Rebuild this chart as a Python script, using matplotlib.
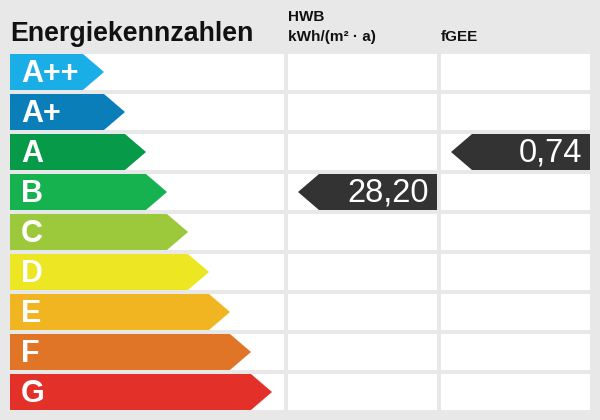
import matplotlib.pyplot as plt
from matplotlib.patches import Polygon, Rectangle

classes = ["A++", "A+", "A", "B", "C", "D", "E", "F", "G"]
class_colors = ["#1aaee6", "#0a7eb9", "#079a48", "#15b24f", "#9cc83c",
                "#ede622", "#f0b520", "#e07528", "#e3312a"]
columns = ["HWB\nkWh/(m² · a)", "fGEE"]
values = ["28,20", "0,74"]
value_class = ["B", "A"]

bg = "#e8e8e8"
fig = plt.figure(figsize=(6, 4.2), dpi=100, facecolor=bg)
ax = fig.add_axes([0, 0, 1, 1])
ax.set_xlim(0, 600)
ax.set_ylim(420, 0)
ax.axis("off")
ax.set_facecolor(bg)

font = "Liberation Sans"
top, pitch, rh = 54, 40, 36
panels = [(10, 284), (288, 437), (441, 590)]

ax.text(10, 41, "Energiekennzahlen", fontsize=19.3, fontweight="bold",
        family=font, color="#111111", va="baseline")

for i, cls in enumerate(classes):
    y0 = top + i * pitch
    for x0, x1 in panels:
        ax.add_patch(Rectangle((x0, y0), x1 - x0, rh, fc="white", ec="none"))
    tip = 104 + 21 * i
    body = tip - 21
    ax.add_patch(Polygon([(10, y0), (body, y0), (tip, y0 + rh / 2),
                          (body, y0 + rh), (10, y0 + rh)],
                         closed=True, fc=class_colors[i], ec="none"))
    ax.text(21, y0 + rh / 2 + 1.5, cls, fontsize=22, fontweight="bold",
            family=font, color="white", va="center", ha="left")

for j, (label, val, vc) in enumerate(zip(columns, values, value_class)):
    x0, x1 = panels[j + 1]
    lines = label.split("\n")
    if len(lines) == 2:
        ax.text(x0, 21, lines[0], fontsize=11, fontweight="bold", family=font,
                color="#111111", va="baseline")
    ax.text(x0, 41, lines[-1], fontsize=11, fontweight="bold", family=font,
            color="#111111", va="baseline")
    i = classes.index(vc)
    y0 = top + i * pitch
    tip = x0 + 10
    body = tip + 21
    ax.add_patch(Polygon([(x1, y0), (body, y0), (tip, y0 + rh / 2),
                          (body, y0 + rh), (x1, y0 + rh)],
                         closed=True, fc="#333333", ec="none"))
    ax.text(x1 - 8, y0 + rh / 2 + 1.5, val, fontsize=23.5, family=font,
            color="white", va="center", ha="right")

fig.savefig("out.png", dpi=100, facecolor=bg)
